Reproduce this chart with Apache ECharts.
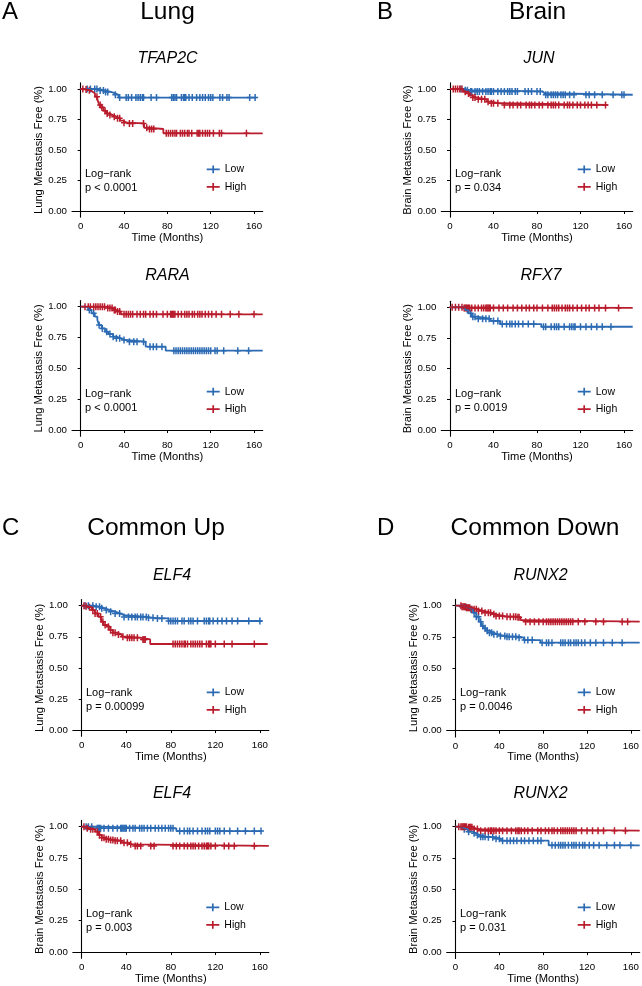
<!DOCTYPE html>
<html>
<head>
<meta charset="utf-8">
<script src="https://cdn.jsdelivr.net/npm/echarts@6/dist/echarts.min.js"></script>
<style>html,body{margin:0;padding:0;background:#fff}#chart{width:642px;height:986px}</style>
</head>
<body>
<div id="chart"></div>
<script>
// ---------- tick labels ----------
const xTicks = [0, 40, 80, 120, 160];
const yTicks = [0, 0.25, 0.5, 0.75, 1];
const groupNames = ['Low', 'High'];

// ---------- A1: TFAP2C (Lung) ----------
const tfap2cLowTime = [0, 16, 22, 28, 32, 35, 162];
const tfap2cLowSurv = [1, 0.988, 0.976, 0.964, 0.952, 0.930, 0.930];
const tfap2cLowCensor = [6, 9, 13, 15, 18, 21, 23, 25, 32, 36, 42, 44, 47, 51, 53, 55, 57, 58, 65, 70, 84, 85.5, 87, 88.5, 93, 95, 96, 97, 100, 103, 107, 110, 112.5, 115, 118, 120, 122, 128.5, 131, 135, 137, 156, 161];
const tfap2cHighTime = [0, 4, 6, 8.6, 11, 13.2, 15.4, 17.2, 18.5, 21, 23.4, 26.5, 29.5, 33, 36.3, 39.4, 42.5, 58.5, 61.5, 76.3, 168];
const tfap2cHighSurv = [1, 0.995, 0.99, 0.978, 0.964, 0.937, 0.915, 0.869, 0.85, 0.822, 0.80, 0.787, 0.773, 0.76, 0.74, 0.724, 0.718, 0.683, 0.672, 0.637, 0.637];
const tfap2cHighCensor = [2, 5, 8, 15, 18, 19.5, 22.5, 24.5, 27, 31, 34, 36, 40, 45, 48, 58, 61, 63.5, 65.5, 67.5, 79, 81, 83, 85, 87, 88.5, 92, 94, 96, 98.5, 100, 102.5, 107.5, 109, 110, 112.5, 115, 117, 119, 122.5, 128, 130, 153];

// ---------- A2: RARA (Lung) ----------
const raraLowTime = [0, 4, 7, 10, 13, 15.4, 17, 19.4, 22.5, 25.5, 30, 33, 37, 41, 60, 78.5, 168];
const raraLowSurv = [1, 0.995, 0.973, 0.946, 0.919, 0.892, 0.851, 0.824, 0.797, 0.778, 0.757, 0.743, 0.73, 0.716, 0.676, 0.643, 0.643];
const raraLowCensor = [8, 12, 17, 20, 24, 27, 30, 33, 36, 40, 45, 49, 52, 58, 64, 67, 70, 75, 86, 88, 90, 92, 94, 96, 98, 100, 102, 104, 106, 108, 110, 112, 114, 116, 118, 120, 124, 126, 132, 145, 155];
const raraHighTime = [0, 24, 30, 33, 37, 168];
const raraHighSurv = [1, 0.99, 0.973, 0.96, 0.938, 0.938];
const raraHighCensor = [4, 7, 9, 12, 14, 16, 18, 20, 22, 25, 27, 29, 31, 32, 34, 36, 40, 42, 44, 46, 48, 52, 55, 58, 60, 64, 67, 70, 76, 80, 83, 84, 85, 86, 87, 90, 93, 96, 98, 100, 103, 105, 108, 110, 112, 115, 118, 121, 125, 130, 138, 146, 160];

// ---------- B1: JUN (Brain) ----------
const junLowTime = [0, 13, 18, 85, 87, 168];
const junLowSurv = [1, 0.99, 0.98, 0.965, 0.953, 0.953];
const junLowCensor = [10, 14, 16, 19, 20, 23, 25, 27, 30, 33, 35, 37, 38, 40, 44, 47, 50, 53, 55, 57, 60, 62, 69, 72, 75, 80, 83, 88, 90, 93, 95, 97, 99, 102, 104, 106, 110, 114, 125, 128, 133, 140, 150, 158, 160];
const junHighTime = [0, 12, 15, 18, 20, 24.5, 34, 37, 46, 145];
const junHighSurv = [1, 0.978, 0.964, 0.945, 0.93, 0.915, 0.896, 0.883, 0.869, 0.869];
const junHighCensor = [3, 5, 7, 9, 11, 14, 17, 21, 23, 26, 29, 32, 35, 38, 40, 44, 50, 55, 58, 62, 65, 70, 73, 75, 78, 82, 85, 90, 93, 95, 97, 100, 105, 108, 110, 113, 117, 120, 124, 127, 130, 135, 143];

// ---------- B2: RFX7 (Brain) ----------
const rfx7LowTime = [0, 14, 17, 20, 24.5, 37, 46, 84, 168];
const rfx7LowSurv = [1, 0.978, 0.951, 0.924, 0.908, 0.889, 0.864, 0.842, 0.842];
const rfx7LowCensor = [16, 19, 21, 23, 26, 30, 33, 36, 40, 44, 48, 52, 55, 57, 60, 63, 67, 72, 77, 86, 88, 93, 96, 98, 100, 105, 110, 112, 114, 115, 120, 125, 130, 135, 140, 148];
const rfx7HighTime = [0, 12, 168];
const rfx7HighSurv = [1, 0.995, 0.995];
const rfx7HighCensor = [2, 5, 8, 11, 13, 14, 15, 16, 17, 18, 20, 23, 26, 29, 31, 33, 34, 35, 36, 37, 40, 45, 49, 53, 58, 62, 66, 70, 73, 77, 80, 85, 90, 94, 96, 98, 100, 103, 106, 108, 110, 113, 117, 121, 125, 128, 133, 137, 143, 155];

// ---------- C1: ELF4 (Lung) ----------
const elf4LungLowTime = [0, 10.5, 16.5, 21, 25.5, 30, 34.5, 38, 58.5, 64.5, 78, 162];
const elf4LungLowSurv = [1, 0.992, 0.979, 0.965, 0.952, 0.938, 0.925, 0.91, 0.903, 0.898, 0.877, 0.877];
const elf4LungLowCensor = [3, 6, 10, 13, 16, 18, 22, 26, 30, 34, 38, 42, 45, 48, 50, 53, 55, 58, 60, 64, 68, 72, 78, 80, 82, 84, 86, 90, 92, 96, 98, 100, 104, 110, 112, 114, 115, 118, 122, 126, 130, 135, 140, 150, 160];
const elf4LungHighTime = [0, 3, 6, 9, 12, 15, 17.4, 19.5, 22.5, 25.5, 28, 31.5, 36, 40.5, 52.5, 61.5, 167];
const elf4LungHighSurv = [1, 0.995, 0.987, 0.965, 0.938, 0.912, 0.871, 0.845, 0.831, 0.804, 0.783, 0.769, 0.751, 0.743, 0.729, 0.692, 0.692];
const elf4LungHighCensor = [2, 4, 7, 10, 12, 14, 17, 19, 21, 24, 26, 28, 30, 33, 37, 41, 43, 45, 47, 50, 55, 56, 57, 82, 84, 86, 88, 90, 92, 93, 95, 98, 100, 102, 104, 106, 108, 112, 114, 115, 116, 120, 128, 135, 155];

// ---------- C2: ELF4 (Brain) ----------
const elf4BrainLowTime = [0, 13.5, 85, 162];
const elf4BrainLowSurv = [1, 0.987, 0.965, 0.965];
const elf4BrainLowCensor = [4, 6, 9, 14, 15, 16, 17, 20, 24, 28, 32, 35, 36, 37, 38, 39, 40, 43, 46, 48, 52, 54, 56, 59, 62, 66, 69, 72, 75, 78, 80, 82, 88, 92, 95, 97, 100, 104, 108, 111, 113, 115, 120, 122, 124, 128, 133, 140, 147, 155, 161];
const elf4BrainHighTime = [0, 4.5, 8, 12, 15, 18, 21, 25.5, 30, 36, 42, 45, 168];
const elf4BrainHighSurv = [1, 0.987, 0.979, 0.96, 0.934, 0.912, 0.899, 0.894, 0.888, 0.872, 0.859, 0.846, 0.846];
const elf4BrainHighCensor = [2, 5, 8, 10, 14, 16, 18, 20, 22, 24, 26, 28, 30, 32, 35, 38, 41, 44, 48, 50, 53, 62, 65, 82, 85, 88, 92, 95, 98, 100, 102, 105, 108, 110, 112, 113, 114, 116, 120, 128, 132, 137, 155];

// ---------- D1: RUNX2 (Lung) ----------
const runx2LungLowTime = [0, 7, 11.4, 16, 19, 21.3, 23.4, 25.5, 28, 31, 34.5, 38.4, 46, 58, 62.4, 77.4, 168];
const runx2LungLowSurv = [1, 0.987, 0.971, 0.944, 0.912, 0.872, 0.837, 0.819, 0.80, 0.784, 0.771, 0.757, 0.752, 0.744, 0.725, 0.704, 0.704];
const runx2LungLowCensor = [10, 14, 17, 19, 21, 23, 25, 27, 29, 31, 33, 35, 38, 41, 45, 47, 49, 52, 55, 58, 63, 66, 70, 79, 83, 85, 88, 96, 98, 100, 103, 105, 108, 110, 112, 115, 118, 123, 128, 135, 143, 152];
const runx2LungHighTime = [0, 5.4, 10, 14.4, 20.4, 26.4, 32.4, 37, 44.4, 56, 59.4, 62.4, 168];
const runx2LungHighSurv = [1, 0.992, 0.984, 0.971, 0.957, 0.944, 0.931, 0.917, 0.912, 0.907, 0.885, 0.872, 0.872];
const runx2LungHighCensor = [5, 6, 7, 8, 9, 10, 11, 12, 13, 15, 17, 19, 21, 24, 27, 30, 32, 35, 37, 40, 43, 47, 50, 53, 55, 57, 58, 64, 68, 72, 76, 80, 83, 85, 87, 89, 91, 93, 95, 97, 99, 101, 103, 105, 107, 112, 118, 128, 135, 152, 157];

// ---------- D2: RUNX2 (Brain) ----------
const runx2BrainLowTime = [0, 4, 7, 11.4, 16, 19, 22, 28, 37, 41.4, 85, 168];
const runx2BrainLowSurv = [1, 0.992, 0.979, 0.96, 0.947, 0.933, 0.92, 0.915, 0.904, 0.888, 0.851, 0.851];
const runx2BrainLowCensor = [8, 12, 17, 20, 23, 25, 27, 30, 34, 37, 40, 43, 47, 50, 53, 56, 60, 63, 67, 71, 75, 78, 88, 91, 94, 96, 98, 100, 103, 106, 108, 110, 113, 116, 118, 122, 126, 131, 138, 145, 150, 160];
const runx2BrainHighTime = [0, 11.4, 16, 20.4, 168];
const runx2BrainHighSurv = [1, 0.995, 0.981, 0.968, 0.968];
const runx2BrainHighCensor = [3, 5, 6, 7, 8, 9, 10, 12, 13, 14, 15, 17, 20, 23, 27, 30, 32, 33, 35, 37, 40, 43, 47, 51, 55, 57, 58, 60, 63, 66, 70, 75, 78, 82, 85, 88, 90, 93, 96, 98, 100, 102, 104, 106, 108, 110, 115, 120, 125, 130, 135, 145, 155];

// ---------- panel texts ----------
const sectionLetters = ['A', 'B', 'C', 'D'];
const sectionTitles = ['Lung', 'Brain', 'Common Up', 'Common Down'];
const geneNames = ['TFAP2C', 'RARA', 'JUN', 'RFX7', 'ELF4', 'ELF4', 'RUNX2', 'RUNX2'];
const yTitles = ['Lung Metastasis Free (%)', 'Lung Metastasis Free (%)', 'Brain Metastasis Free (%)', 'Brain Metastasis Free (%)',
                 'Lung Metastasis Free (%)', 'Brain Metastasis Free (%)', 'Lung Metastasis Free (%)', 'Brain Metastasis Free (%)'];
const pValues = ['p < 0.0001', 'p < 0.0001', 'p = 0.034', 'p = 0.0019', 'p = 0.00099', 'p = 0.003', 'p = 0.0046', 'p = 0.031'];
const xTitle = 'Time (Months)';

const panelData = [
  {low: [tfap2cLowTime, tfap2cLowSurv, tfap2cLowCensor], high: [tfap2cHighTime, tfap2cHighSurv, tfap2cHighCensor]},
  {low: [raraLowTime, raraLowSurv, raraLowCensor], high: [raraHighTime, raraHighSurv, raraHighCensor]},
  {low: [junLowTime, junLowSurv, junLowCensor], high: [junHighTime, junHighSurv, junHighCensor]},
  {low: [rfx7LowTime, rfx7LowSurv, rfx7LowCensor], high: [rfx7HighTime, rfx7HighSurv, rfx7HighCensor]},
  {low: [elf4LungLowTime, elf4LungLowSurv, elf4LungLowCensor], high: [elf4LungHighTime, elf4LungHighSurv, elf4LungHighCensor]},
  {low: [elf4BrainLowTime, elf4BrainLowSurv, elf4BrainLowCensor], high: [elf4BrainHighTime, elf4BrainHighSurv, elf4BrainHighCensor]},
  {low: [runx2LungLowTime, runx2LungLowSurv, runx2LungLowCensor], high: [runx2LungHighTime, runx2LungHighSurv, runx2LungHighCensor]},
  {low: [runx2BrainLowTime, runx2BrainLowSurv, runx2BrainLowCensor], high: [runx2BrainHighTime, runx2BrainHighSurv, runx2BrainHighCensor]}
];

// ---------- layout (pixels) ----------
const layouts = [
  {grid: {left: 72, top: 82.9, width: 190.7, height: 134.2}, gene: [167.5, 59], logrank: [85, 180.5], legend: [206.7, 169.3]},
  {grid: {left: 72, top: 300.5, width: 190.7, height: 135.7}, gene: [167.5, 276], logrank: [85, 400.5], legend: [206.7, 391.7]},
  {grid: {left: 441.3, top: 82.9, width: 191.4, height: 134.2}, gene: [539, 59], logrank: [455, 180.5], legend: [577.7, 169.3]},
  {grid: {left: 441.3, top: 301.2, width: 191.4, height: 135}, gene: [541, 276], logrank: [455, 400.5], legend: [577.7, 391.7]},
  {grid: {left: 72.8, top: 599.5, width: 196, height: 136.8}, gene: [172, 576], logrank: [86, 699.5], legend: [206.7, 692.3]},
  {grid: {left: 72.8, top: 820.4, width: 196, height: 137.9}, gene: [172, 794], logrank: [86, 921.3], legend: [206.3, 907.3]},
  {grid: {left: 446.7, top: 599.4, width: 197, height: 137.5}, gene: [540.5, 576], logrank: [460, 699.5], legend: [577.7, 692.3]},
  {grid: {left: 446.7, top: 820.4, width: 197, height: 138}, gene: [540.5, 794], logrank: [460, 921.3], legend: [577.7, 907.3]}
];
const sectionLayout = [
  {letter: [2, 12], title: [167.5, 12.5]},
  {letter: [377, 12], title: [537.5, 12.5]},
  {letter: [2, 528], title: [156, 528]},
  {letter: [377, 528], title: [535, 528]}
];

const FONT = '"Liberation Sans", Arial, Helvetica, sans-serif';
const COLORS = {Low: '#2C6BB3', High: '#B91C2C'};
const plusPath = 'path://M0,2.75H6V4.25H0Z M2.25,0H3.75V7H2.25Z';
const legendPath = 'path://M0,3H13V4.7H0Z M5.65,0H7.35V7.7H5.65Z';

function stepData(times, surv) {
  return times.map((t, i) => [t, surv[i]]);
}
function survAt(times, surv, t) {
  let s = surv[0];
  for (let i = 0; i < times.length; i++) { if (times[i] <= t) s = surv[i]; }
  return s;
}
function censorData(times, surv, cens) {
  return cens.map(c => [c, survAt(times, surv, c)]);
}

const grids = [], xAxes = [], yAxes = [], series = [], legends = [], graphics = [];
panelData.forEach((pd, i) => {
  const L = layouts[i];
  grids.push(Object.assign({containLabel: false}, L.grid));
  xAxes.push({
    type: 'value', gridIndex: i, min: -8, max: 168,
    name: xTitle, nameLocation: 'middle', nameGap: 14,
    nameTextStyle: {fontFamily: FONT, fontSize: 11.2, color: '#000'},
    axisLine: {show: true, lineStyle: {color: '#000', width: 1.1}},
    axisTick: {show: true, length: 3, lineStyle: {color: '#000'}, customValues: xTicks},
    axisLabel: {margin: 4, fontFamily: FONT, fontSize: 9.7, color: '#000', customValues: xTicks},
    splitLine: {show: false}
  });
  yAxes.push({
    type: 'value', gridIndex: i, min: -0.05, max: 1.05,
    name: yTitles[i], nameLocation: 'middle', nameGap: 25,
    nameTextStyle: {fontFamily: FONT, fontSize: 11.2, color: '#000'},
    axisLine: {show: true, lineStyle: {color: '#000', width: 1.1}},
    axisTick: {show: true, length: 3, lineStyle: {color: '#000'}, customValues: yTicks},
    axisLabel: {margin: 5, fontFamily: FONT, fontSize: 9.7, color: '#000', customValues: yTicks,
                formatter: v => Number(v).toFixed(2)},
    splitLine: {show: false}
  });
  [['Low', pd.low], ['High', pd.high]].forEach(([name, d]) => {
    series.push({
      name: name, type: 'line', step: 'end', xAxisIndex: i, yAxisIndex: i,
      data: stepData(d[0], d[1]), showSymbol: false, symbol: 'none',
      color: COLORS[name], lineStyle: {width: 1.8, color: COLORS[name]},
      itemStyle: {color: COLORS[name]}, animation: false, silent: true
    });
    series.push({
      name: name + ' censor', type: 'scatter', xAxisIndex: i, yAxisIndex: i,
      data: censorData(d[0], d[1], d[2]), symbol: plusPath, symbolSize: [6, 7],
      itemStyle: {color: COLORS[name], opacity: 1}, animation: false, silent: true
    });
  });
  legends.push({
    data: groupNames, orient: 'vertical', left: L.legend[0], top: L.legend[1] - 6,
    padding: 0, itemWidth: 13, itemHeight: 7.7, itemGap: 5.5, icon: legendPath,
    selectedMode: false,
    textStyle: {fontFamily: FONT, fontSize: 10.5, color: '#000', lineHeight: 12}
  });
  graphics.push({
    type: 'text', x: L.gene[0], y: L.gene[1],
    style: {text: geneNames[i], font: 'italic 16px ' + FONT, fill: '#000', textAlign: 'center', textVerticalAlign: 'middle'}
  });
  graphics.push({
    type: 'text', x: L.logrank[0], y: L.logrank[1],
    style: {text: 'Log\u2212rank\n' + pValues[i], font: '11px ' + FONT, fill: '#000', lineHeight: 14,
            textAlign: 'left', textVerticalAlign: 'middle'}
  });
});
sectionLayout.forEach((s, k) => {
  graphics.push({type: 'text', x: s.letter[0], y: s.letter[1],
    style: {text: sectionLetters[k], font: '24px ' + FONT, fill: '#000', textAlign: 'left', textVerticalAlign: 'middle'}});
  graphics.push({type: 'text', x: s.title[0], y: s.title[1],
    style: {text: sectionTitles[k], font: '24.5px ' + FONT, fill: '#000', textAlign: 'center', textVerticalAlign: 'middle'}});
});

const chart = echarts.init(document.getElementById('chart'), null, {renderer: 'canvas'});
chart.setOption({
  backgroundColor: '#fff',
  animation: false,
  grid: grids, xAxis: xAxes, yAxis: yAxes, series: series, legend: legends,
  graphic: graphics
});
</script>
</body>
</html>
